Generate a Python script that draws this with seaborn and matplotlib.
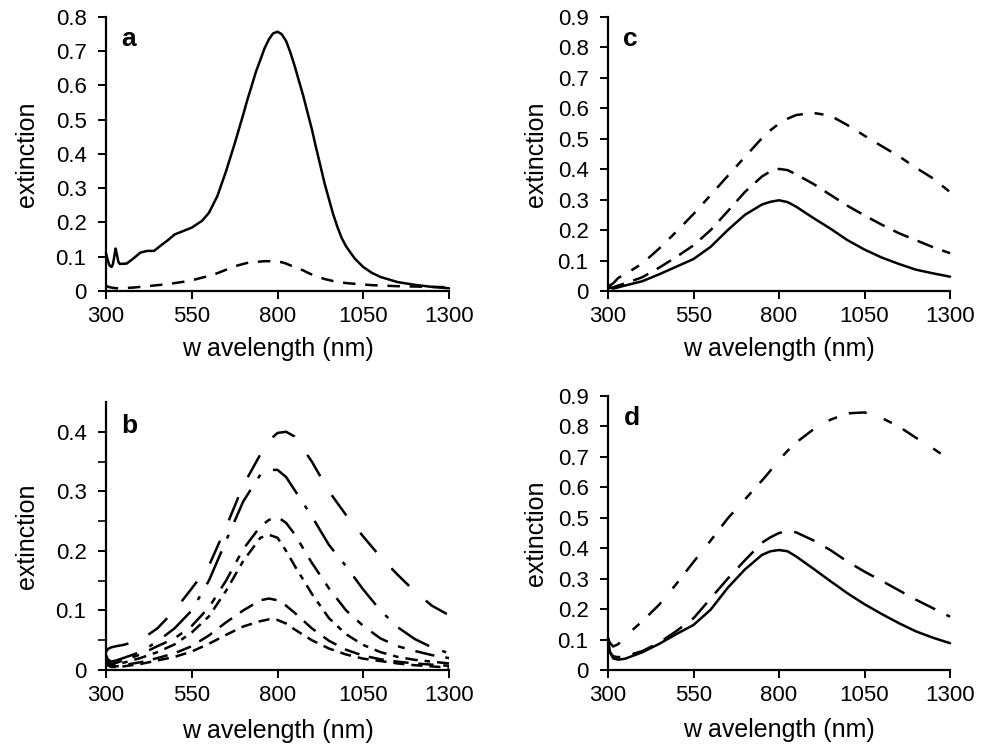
import numpy as np
import pandas as pd
import seaborn as sns
import matplotlib
matplotlib.use("Agg")
import matplotlib.pyplot as plt
from matplotlib.ticker import FuncFormatter

# wavelength grids (nm)
wl_a = [300, 305, 310, 316, 320, 324, 328, 332, 336, 340, 360, 380, 400, 420, 440,
        460, 480, 500, 520, 550, 580, 600, 625, 650, 675, 700, 712, 725, 737, 750,
        762, 775, 787, 800, 812, 825, 837, 850, 862, 875, 887, 900, 912, 925, 937,
        950, 962, 975, 987, 1000, 1025, 1050, 1075, 1100, 1150, 1200, 1250, 1300]
wl = [300, 305, 315, 330, 350, 400, 450, 500, 550, 600, 650, 700, 750, 775, 800,
      825, 850, 900, 950, 1000, 1050, 1100, 1150, 1200, 1250, 1300]

# panel a
a_solid = [0.11, 0.09, 0.075, 0.07, 0.078, 0.1, 0.124, 0.105, 0.085, 0.079, 0.08,
           0.095, 0.112, 0.117, 0.117, 0.133, 0.148, 0.165, 0.173, 0.185, 0.205,
           0.228, 0.278, 0.35, 0.43, 0.515, 0.558, 0.6, 0.64, 0.675, 0.708, 0.735,
           0.752, 0.757, 0.75, 0.73, 0.698, 0.657, 0.615, 0.57, 0.523, 0.473, 0.42,
           0.366, 0.315, 0.268, 0.225, 0.186, 0.155, 0.13, 0.095, 0.07, 0.053, 0.041,
           0.026, 0.018, 0.012, 0.008]
a_dash = [0.015, 0.013, 0.011, 0.01, 0.009, 0.009, 0.008, 0.008, 0.008, 0.008, 0.009,
          0.01, 0.012, 0.014, 0.016, 0.018, 0.02, 0.023, 0.026, 0.031, 0.039, 0.044,
          0.052, 0.062, 0.072, 0.079, 0.082, 0.084, 0.085, 0.086, 0.087, 0.087, 0.087,
          0.086, 0.084, 0.08, 0.075, 0.07, 0.065, 0.06, 0.054, 0.048, 0.043, 0.039,
          0.035, 0.032, 0.029, 0.027, 0.025, 0.023, 0.021, 0.019, 0.017, 0.016, 0.014,
          0.013, 0.012, 0.011]

# panel b
b1 = [0.03, 0.035, 0.038, 0.04, 0.042, 0.05, 0.07, 0.1, 0.137, 0.175, 0.24, 0.31,
      0.362, 0.385, 0.398, 0.4, 0.392, 0.35, 0.3, 0.26, 0.224, 0.19, 0.16, 0.132,
      0.108, 0.092]
b2 = [0.025, 0.018, 0.014, 0.016, 0.02, 0.03, 0.048, 0.07, 0.1, 0.15, 0.217, 0.283,
      0.328, 0.336, 0.336, 0.324, 0.302, 0.258, 0.21, 0.174, 0.135, 0.1, 0.072,
      0.052, 0.038, 0.028]
b3 = [0.02, 0.014, 0.01, 0.012, 0.016, 0.026, 0.04, 0.053, 0.074, 0.105, 0.15, 0.203,
      0.241, 0.252, 0.257, 0.247, 0.228, 0.18, 0.137, 0.1, 0.074, 0.053, 0.04,
      0.032, 0.025, 0.02]
b4 = [0.018, 0.012, 0.008, 0.009, 0.012, 0.02, 0.03, 0.043, 0.063, 0.09, 0.133, 0.183,
      0.222, 0.227, 0.222, 0.2, 0.175, 0.128, 0.087, 0.06, 0.042, 0.03, 0.022,
      0.017, 0.014, 0.011]
b5 = [0.015, 0.01, 0.006, 0.006, 0.008, 0.013, 0.02, 0.028, 0.04, 0.058, 0.08, 0.1,
      0.117, 0.12, 0.117, 0.108, 0.096, 0.07, 0.049, 0.034, 0.024, 0.018, 0.014,
      0.011, 0.009, 0.007]
b6 = [0.012, 0.008, 0.005, 0.005, 0.006, 0.01, 0.016, 0.022, 0.031, 0.044, 0.059,
      0.073, 0.082, 0.085, 0.084, 0.078, 0.068, 0.05, 0.036, 0.026, 0.019, 0.015,
      0.011, 0.008, 0.006, 0.004]

# panel c
c_solid = [0.02, 0.012, 0.008, 0.012, 0.018, 0.032, 0.055, 0.08, 0.105, 0.145, 0.2,
           0.25, 0.284, 0.293, 0.298, 0.292, 0.277, 0.24, 0.205, 0.167, 0.136, 0.11,
           0.089, 0.07, 0.058, 0.047]
c_mid = [0.012, 0.01, 0.012, 0.018, 0.025, 0.045, 0.077, 0.112, 0.15, 0.2, 0.262,
         0.325, 0.376, 0.393, 0.401, 0.397, 0.383, 0.352, 0.316, 0.28, 0.248, 0.218,
         0.19, 0.167, 0.144, 0.124]
c_top = [0.02, 0.018, 0.025, 0.043, 0.055, 0.09, 0.14, 0.195, 0.253, 0.315, 0.378,
         0.44, 0.502, 0.528, 0.55, 0.566, 0.578, 0.585, 0.576, 0.545, 0.51, 0.476,
         0.443, 0.405, 0.37, 0.325]

# panel d
d_solid = [0.105, 0.06, 0.038, 0.034, 0.037, 0.058, 0.086, 0.118, 0.148, 0.198, 0.27,
           0.33, 0.378, 0.39, 0.394, 0.39, 0.373, 0.333, 0.292, 0.252, 0.216, 0.184,
           0.154, 0.127, 0.106, 0.088]
d_mid = [0.09, 0.06, 0.045, 0.042, 0.045, 0.062, 0.09, 0.128, 0.17, 0.235, 0.3, 0.36,
         0.418, 0.436, 0.45, 0.456, 0.452, 0.426, 0.394, 0.356, 0.323, 0.293, 0.262,
         0.231, 0.203, 0.175]
d_top = [0.105, 0.09, 0.077, 0.085, 0.11, 0.16, 0.215, 0.283, 0.355, 0.425, 0.498,
         0.56, 0.622, 0.655, 0.69, 0.72, 0.747, 0.79, 0.822, 0.843, 0.846, 0.828, 0.8,
         0.763, 0.728, 0.69]

sns.set_style("ticks")
plt.rcParams["font.family"] = ["Liberation Sans", "DejaVu Sans"]
plt.rcParams["lines.scale_dashes"] = False
plt.rcParams["text.color"] = "black"
plt.rcParams["axes.labelcolor"] = "black"

fig = plt.figure(figsize=(9.89, 7.49), dpi=100)
ax_a = fig.add_axes([0.1072, 0.6115, 0.3468, 0.3658])
ax_c = fig.add_axes([0.6148, 0.6115, 0.3458, 0.3658])
ax_b = fig.add_axes([0.1072, 0.1055, 0.3468, 0.3578])
ax_d = fig.add_axes([0.6148, 0.1055, 0.3458, 0.3658])

LW = 1.8


def curve(ax, x, y, dash=None):
    kw = dict(color="black", linewidth=LW, clip_on=False)
    if dash is not None:
        kw["linestyle"] = (0, dash)
    sns.lineplot(x=x, y=y, ax=ax, **kw)


curve(ax_a, wl_a, a_solid)
curve(ax_a, wl_a, a_dash, (9, 7))

curve(ax_b, wl, b1, (18, 16))
curve(ax_b, wl, b2, (26, 10, 3, 10))
curve(ax_b, wl, b3, (14, 8, 5, 8))
curve(ax_b, wl, b4, (9, 5, 4, 5))
curve(ax_b, wl, b5, (11, 7))
curve(ax_b, wl, b6, (8, 5))

curve(ax_c, wl, c_solid)
curve(ax_c, wl, c_mid, (12, 7))
curve(ax_c, wl, c_top, (12, 8.5, 6.5, 8.5))

curve(ax_d, wl, d_solid)
curve(ax_d, wl, d_mid, (16, 9))
curve(ax_d, wl, d_top, (13, 13, 6.5, 9))

fmt = FuncFormatter(lambda v, p: f"{v:g}")
panels = [(ax_a, "a", 0.8, -0.196, -0.168),
          (ax_c, "c", 0.9, -0.175, -0.168),
          (ax_b, "b", 0.45, -0.196, -0.183),
          (ax_d, "d", 0.9, -0.175, -0.175)]
for ax, letter, ymax, ylx, xly in panels:
    ax.set_xlim(300, 1300)
    ax.set_ylim(0, ymax)
    ax.set_xticks([300, 550, 800, 1050, 1300])
    ax.set_yticks(np.arange(0, ymax + 1e-9, 0.1))
    ax.yaxis.set_major_formatter(fmt)
    sns.despine(ax=ax)
    for s in ["left", "bottom"]:
        ax.spines[s].set_linewidth(1.6)
        ax.spines[s].set_color("black")
    ax.tick_params(direction="out", length=6, width=1.4, labelsize=16,
                   colors="black", pad=5)
    ax.tick_params(axis="y", pad=8)
    ax.set_xlabel("w avelength (nm)", fontsize=18)
    ax.set_ylabel("extinction", fontsize=18)
    ax.yaxis.set_label_coords(ylx, 0.5)
    ax.xaxis.set_label_coords(0.5, xly)
    ax.text(0.045, 0.965 if letter != "b" else 0.955, letter, transform=ax.transAxes,
            fontsize=19, fontweight="bold", va="top", ha="left", color="black")

ax_b.set_yticks(np.arange(0.05, 0.45, 0.1), minor=True)
ax_b.tick_params(axis="y", which="minor", direction="out", length=6, width=1.4)

fig.savefig("out.png", dpi=100)
